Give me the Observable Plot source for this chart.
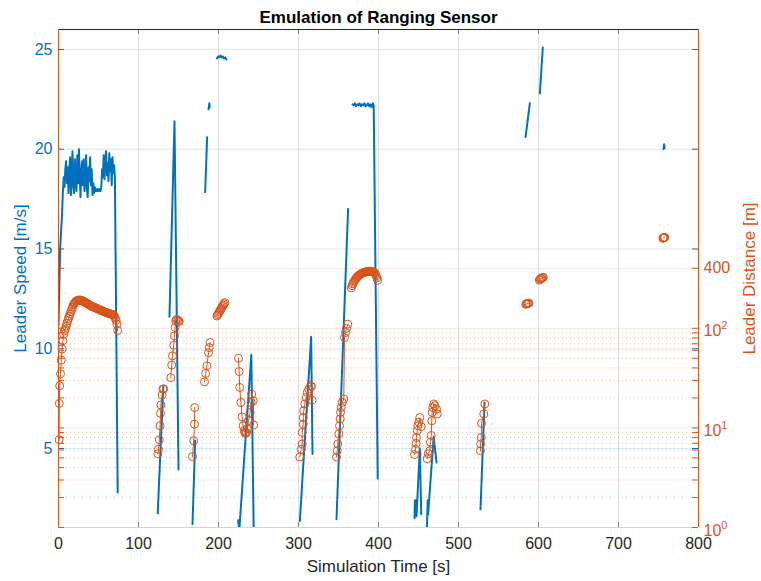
<!DOCTYPE html>
<html><head><meta charset="utf-8">
<script src="https://cdn.jsdelivr.net/npm/d3@7"></script>
<script src="https://cdn.jsdelivr.net/npm/@observablehq/plot@0.6"></script>
<style>
html,body{margin:0;padding:0;background:#fff;}
#chart{position:relative;width:761px;height:581px;}
#chart svg{position:absolute;left:0;top:0;}
</style></head><body><div id="chart"></div>
<script>
// ---- texts & ticks ----
const title = "Emulation of Ranging Sensor";
const xLabel = "Simulation Time [s]";
const speedLabel = "Leader Speed [m/s]";
const distLabel = "Leader Distance [m]";
const xTicks = [0, 100, 200, 300, 400, 500, 600, 700, 800];
const speedTicks = [5, 10, 15, 20, 25];
const distTicks = [1, 10, 100, 400];
const distTickLabels = ["10^0", "10^1", "10^2", "400"];
const distMinorTicks = [2, 3, 4, 5, 6, 7, 8, 9, 20, 30, 40, 50, 60, 70, 80, 90];
const xDomain = [0, 800];
const speedDomain = [1.04, 26];
const distDomain = [1, 1e5];

// ---- leader speed [m/s] (NaN = no detection) ----
const speedTime = [
  0, 2, 4.5, 5.5, 6.5, 7.5, 8.5, 9.5, 10.5, 11.5, 12.5, 13.5, 14.5, 15.5, 16.5, 17.5, 18.5, 19.5, 20.5, 21.5,
  22.5, 23.5, 24.5, 25.5, 26.5, 27.5, 28.5, 29.5, 30.5, 31.5, 32.5, 33.5, 34.5, 35.5, 36.5, 37.5, 38.5, 39.5,
  40.5, 41.5, 42.5, 43.5, 44.5, 45.5, 46.5, 47.5, 48.5, 49.5, 50.5, 51.5, 52.5, 53.5, 54.5, 55.5, 56.5, 57.5,
  58.5, 59.5, 60.5, 61.5, 62.5, 63.5, 64.5, 65.5, 66.5, 67.5, 68.5, 69.5, 70.5, 74, NaN,
  124, 131, NaN,
  138.7, 145, 150, NaN,
  167.5, 170.8, NaN,
  183.3, 185.8, NaN,
  187.5, 188.5, 189, NaN,
  198, 199.5, 201, 202.5, 204, 205.5, 207, 208.5, 210, NaN,
  224.5, 226, 241, 244, NaN,
  301.7, 315.8, 317.5, NaN,
  347.5, 362, NaN,
  367.5, 369, 370.5, 372, 373.5, 375, 376.5, 378, 379.5, 381, 382.5, 384, 385.5, 387, 388.5, 390, 391.5, 393, 394, 399, NaN,
  445, 445.5, 446.5, 447, 447.5, 451.7, 453.4, NaN,
  460.5, 461.5, 462, 469, 472.5, NaN,
  527.5, 532.5, NaN,
  583.8, 589.2, NaN,
  601.7, 605.4, NaN,
  756.2, 757, 757.6
];
const speedValue = [
  11.2, 15.0, 16.8, 17.9, 18.6, 18.1, 19.0, 19.4, 18.3, 19.1, 17.8, 18.9, 19.6, 17.7, 18.7, 19.9, 18.1, 17.8, 19.5, 18.4,
  17.9, 19.7, 18.3, 20.0, 18.7, 17.6, 18.9, 19.4, 18.2, 19.5, 17.9, 18.6, 19.7, 18.0, 17.6, 19.1, 18.4, 19.6,
  18.2, 19.0, 17.7, 18.3, 17.8, 18.1, 17.9, 18.0, 17.9, 18.0, 17.9, 18.0, 17.9, 18.1, 19.0, 18.6, 19.7, 18.5,
  19.4, 19.9, 18.7, 19.3, 18.4, 19.8, 18.9, 19.5, 18.2, 19.6, 18.8, 19.2, 18.6, 2.8, NaN,
  1.75, 8.1, NaN,
  11.6, 21.4, 3.95, NaN,
  1.2, 5.4, NaN,
  17.85, 20.6, NaN,
  22.0, 22.3, 22.1, NaN,
  24.55, 24.65, 24.6, 24.7, 24.6, 24.65, 24.55, 24.6, 24.5, NaN,
  1.4, 0.9, 9.7, 0.9, NaN,
  1.37, 10.6, 4.73, NaN,
  1.45, 17.0, NaN,
  22.25, 22.2, 22.3, 22.15, 22.25, 22.2, 22.3, 22.15, 22.25, 22.2, 22.3, 22.15, 22.2, 22.3, 22.15, 22.25, 22.1, 22.3, 22.2, 3.5, NaN,
  1.5, 2.4, 1.6, 2.4, 1.6, 5.0, 1.7, NaN,
  1.0, 2.4, 1.7, 5.6, 4.3, NaN,
  1.95, 7.3, NaN,
  20.6, 22.3, NaN,
  22.8, 25.1, NaN,
  20.0, 20.25, 20.05
];

// ---- leader distance [m] (NaN = no detection) ----
const distTime = [
  0.8, 1.0, 1.5, 2.5, 3.5, 4.5, 5.5, 6.5, 7.5, 8.5, 9.5, 10.5, 11.5, 12.5, 13.5, 14.5, 15.5, 16.5, 17.5, 18.5,
  19.5, 20.5, 21.5, 22.5, 23.5, 24.5, 25.5, 26.5, 27.5, 29, 30, 31, 32, 33, 34, 35, 36, 37, 38, 39, 40, 41, 42,
  43, 44, 45, 46, 47, 48, 49, 50, 51, 52, 53, 54, 55, 56, 57, 58, 59, 60, 61, 62, 63, 64, 65, 66, 67, 68, 69,
  70, 71, 72, 73, 74, NaN,
  124.2, 125, 126, 127, 127.5, 128, 129.5, 130.5, 131.5, NaN,
  140.4, 141.5, 142.5, 144, 145, 145.8, 146.5, 147.5, 149, 150, 150.8, NaN,
  167.5, 169, 170, 170.3, NaN,
  182.5, 184, 185.5, 187.5, 188.5, 189.5, NaN,
  198, 199, 200, 201, 202, 203, 204, 205, 206, 207, 208, NaN,
  225, 225.8, 226.5, 228, 229.5, 230.8, 232, 233, 234, 235, 236, 237.5, 239.5, 240.8, 241.5, 243.5, 244, NaN,
  301.6, 303.4, 304.6, 304.6, 305.9, 305.9, 306.6, 307.9, 309.6, 310.9, 312.9, 315, 316.3, 317.1, NaN,
  347.5, 348.4, 349.1, 350.4, 351.3, 352.1, 352.5, 353.4, 354.6, 356.6, 357.5, 358.8, 360, 361.6, NaN,
  366, 367, 368, 369, 370, 371, 372, 373, 374, 375, 376, 377, 378, 379, 380, 381, 382, 383, 384, 385, 386, 387,
  388, 389, 390, 391, 392, 393, 394, 395, 396, 397, 398, 399, NaN,
  445, 446.3, 447.1, 447.5, 448.4, 449.1, 450.4, 451.6, 453.4, NaN,
  460.9, 462.1, 464.1, 465, 465.9, 466.6, 467.1, 467.9, 469.1, 470.4, 472.5, 473.4, NaN,
  527.5, 527.6, 528.4, 528.8, 531.6, 532.9, NaN,
  584, 585, 586, 587, 588, NaN,
  601, 602, 603, 604, 605, 606, NaN,
  755.5, 756.3, 757, 757.8
];
const distValue = [
  7.6, 17.6, 26.5, 35, 48, 62, 75, 87, 94, 98, 105, 112, 119, 126, 133, 140, 147, 155, 163, 171,
  177, 181, 185, 188, 190, 191.5, 192, 192, 191.5, 190, 189, 187, 185, 183, 181, 179, 177, 175, 173, 171, 169, 167, 165,
  164, 163, 162, 161, 160, 158, 157, 155, 154, 153, 151, 150, 149, 148, 147, 146, 145, 144, 143, 142, 141, 140, 139, 139, 138, 137, 135,
  131, 126, 120, 110, 95, NaN,
  5.5, 6.1, 7.6, 10.5, 14, 17, 21.4, 24.5, 24.7, NaN,
  32, 42.7, 52.9, 67.7, 84, 101.7, 118.6, 123, 121, 118, 117, NaN,
  5.15, 7.44, 10.9, 16, NaN,
  29, 35.2, 42, 57, 64, 72, NaN,
  133, 137, 141, 146, 151, 156, 161, 166, 171, 176, 181, NaN,
  50, 36.8, 25.5, 18, 12.9, 10.5, 9.4, 9.0, 8.8, 9.0, 9.8, 11.8, 14.3, 18, 21.9, 18.7, 10.7, NaN,
  5.1, 6.1, 6.9, 9.0, 10.9, 12.7, 14.9, 17.4, 20.2, 22.7, 24.5, 26.5, 26, 19, NaN,
  5.1, 5.9, 6.9, 8.7, 10.5, 12.3, 14.3, 16, 18, 19.5, 80.7, 90.6, 100, 110, NaN,
  255, 268, 280, 291, 300, 309, 317, 324, 331, 337, 342, 347, 351, 355, 358, 361, 364, 366, 368, 370, 371, 372,
  373, 373, 373, 372, 371, 369, 366, 361, 352, 338, 320, 303, NaN,
  5.4, 6.1, 7.0, 8.0, 9.4, 10.5, 11.4, 12.7, 10.3, NaN,
  4.9, 5.5, 5.9, 7.2, 8.4, 11.8, 14.3, 16, 17.4, 16.7, 15.4, 13.8, NaN,
  5.9, 6.9, 8.0, 11.1, 13.8, 17.4, NaN,
  174, 176, 177, 178, 179, NaN,
  305, 310, 315, 319, 322, 325, NaN,
  800, 808, 815, 820
];

// ---- rendering ----
const W = 761, H = 581;
const M = {marginTop: 29, marginRight: 63, marginBottom: 54, marginLeft: 58};
const BLUE = "#0072BD", ORANGE = "#D95319", DARK = "#262626";
const FONT = '"Liberation Sans", Arial, Helvetica, sans-serif';
const frameW = W - M.marginLeft - M.marginRight;
const frameH = H - M.marginTop - M.marginBottom;
const TICK = 6;

const speed = speedTime.map((t, i) => ({t, v: speedValue[i]}));
const dist = distTime.map((t, i) => ({t, d: distValue[i]}));
const distTickRows = distTicks.map((d, i) => ({d, label: distTickLabels[i]}));
const baseStyle = {background: "transparent", fontFamily: FONT, fontSize: "16px", overflow: "visible"};

// Layer A: grid lines (distance log scale + x)
const gridPlot = Plot.plot({
  width: W, height: H, ...M, style: baseStyle,
  x: {domain: xDomain, axis: null},
  y: {type: "log", domain: distDomain, axis: null},
  marks: [
    Plot.ruleY(distMinorTicks, {stroke: ORANGE, strokeOpacity: 0.35, strokeDasharray: "1,3"}),
    Plot.ruleY(distTicks, {stroke: ORANGE, strokeOpacity: 0.15}),
    Plot.ruleX(xTicks, {stroke: DARK, strokeOpacity: 0.15})
  ]
});

// Layer B: speed (left axis) + x axis + texts
const speedPlot = Plot.plot({
  width: W, height: H, ...M, style: baseStyle,
  x: {domain: xDomain},
  y: {domain: speedDomain},
  marks: [
    Plot.ruleY(speedTicks, {stroke: BLUE, strokeOpacity: 0.15}),
    Plot.line(speed, {x: "t", y: "v", stroke: BLUE, strokeWidth: 2, clip: true}),
    Plot.tickY(speedTicks, {stroke: BLUE, insetRight: frameW - TICK}),
    Plot.tickY(speedTicks, {stroke: BLUE, insetLeft: frameW - TICK}),
    Plot.tickX(xTicks, {stroke: DARK, strokeOpacity: 0.5, insetBottom: frameH - 5}),
    Plot.tickX(xTicks, {stroke: DARK, strokeOpacity: 0.5, insetTop: frameH - 5}),
    Plot.ruleY([speedDomain[1]], {stroke: DARK}),
    Plot.ruleY([speedDomain[0]], {stroke: "#e3cfc9"}),
    Plot.axisY({ticks: speedTicks, tickSize: 0, tickPadding: 6, color: BLUE, fontSize: 16, label: null}),
    Plot.axisX({ticks: xTicks, tickSize: 0, tickPadding: 10, color: DARK, fontSize: 16, label: null}),
    Plot.text([title], {text: d => d, frameAnchor: "top", lineAnchor: "middle", textAnchor: "middle", dy: -12.4, fontWeight: "bold", fontSize: 17, fill: "#000"}),
    Plot.text([xLabel], {text: d => d, frameAnchor: "bottom", lineAnchor: "middle", textAnchor: "middle", dy: 38.6, fontSize: 17, fill: DARK}),
    Plot.text([speedLabel], {text: d => d, frameAnchor: "left", lineAnchor: "middle", textAnchor: "middle", dx: -38.4, rotate: -90, fontSize: 17, fill: BLUE})
  ]
});

// Layer C: distance (right log axis)
const distPlot = Plot.plot({
  width: W, height: H, ...M, style: baseStyle,
  x: {domain: xDomain, axis: null},
  y: {type: "log", domain: distDomain, axis: null},
  marks: [
    Plot.line(dist, {x: "t", y: "d", stroke: ORANGE, strokeWidth: 1}),
    Plot.dot(dist, {x: "t", y: "d", r: 4, stroke: ORANGE, fill: "none", strokeWidth: 1}),
    Plot.tickY(distTicks, {stroke: ORANGE, insetRight: frameW - TICK}),
    Plot.tickY(distTicks, {stroke: ORANGE, insetLeft: frameW - TICK}),
    Plot.tickY(distMinorTicks, {stroke: ORANGE, insetRight: frameW - TICK}),
    Plot.tickY(distMinorTicks, {stroke: ORANGE, insetLeft: frameW - TICK}),
    Plot.ruleX(xDomain, {stroke: ORANGE}),
    Plot.text(distTickRows, {y: "d", text: "label", frameAnchor: "right", dx: 5, textAnchor: "start", lineAnchor: "middle", fontSize: 16, fill: ORANGE}),
    Plot.text([distLabel], {text: d => d, frameAnchor: "right", lineAnchor: "middle", textAnchor: "middle", dx: 50.6, rotate: -90, fontSize: 17, fill: ORANGE})
  ]
});

// superscript exponents on the log axis labels
const NS = "http://www.w3.org/2000/svg";
distPlot.querySelectorAll("text").forEach(el => {
  const m = /^10\^(\d+)$/.exec(el.textContent);
  if (!m) return;
  el.textContent = "";
  const base = document.createElementNS(NS, "tspan");
  base.textContent = "10";
  base.setAttribute("dy", "3");
  const exp = document.createElementNS(NS, "tspan");
  exp.textContent = m[1];
  exp.setAttribute("dy", "-7");
  exp.setAttribute("font-size", "11");
  el.append(base, exp);
});

const chart = document.getElementById("chart");
chart.append(gridPlot, speedPlot, distPlot);
</script></body></html>
